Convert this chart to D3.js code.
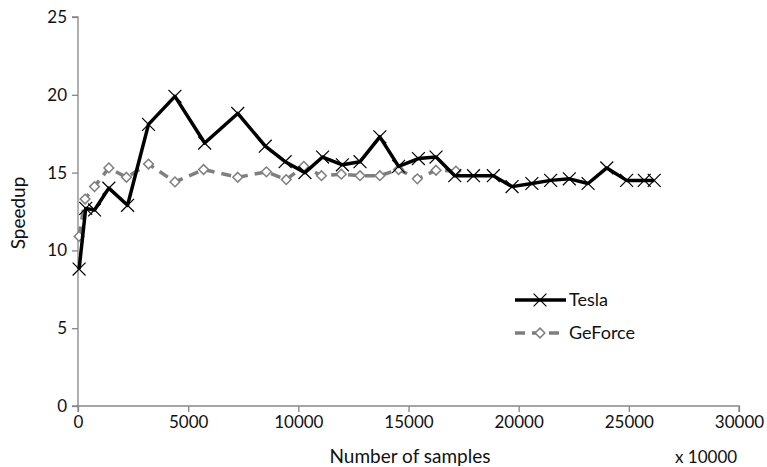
<!DOCTYPE html>
<html>
<head>
<meta charset="utf-8">
<script src="https://cdn.jsdelivr.net/npm/d3@7"></script>
<style>
  body { margin: 0; background: #fff; }
  text { font-family: Lato, "Open Sans", sans-serif; fill: #111; }
</style>
</head>
<body>
<svg id="chart" width="767" height="467"></svg>
<script>
// data
const teslaX = [50, 350, 750, 1400, 2250, 3200, 4400, 5750, 7250, 8500, 9400, 10300, 11100, 12000, 12800, 13700,
                14550, 15450, 16250, 17100, 17950, 18850, 19700, 20600, 21450, 22300, 23150, 24000, 24900, 25700, 26150];
const teslaY = [8.8, 12.7, 12.6, 14.0, 12.9, 18.1, 19.9, 16.9, 18.8, 16.7, 15.7, 15.0, 16.0, 15.5, 15.7, 17.3,
                15.4, 15.9, 16.0, 14.8, 14.8, 14.8, 14.1, 14.3, 14.5, 14.6, 14.3, 15.3, 14.5, 14.5, 14.5];
const geforceX = [50, 320, 750, 1400, 2200, 3200, 4400, 5700, 7250, 8550, 9450, 10250, 11050, 11950, 12800, 13700,
                  14550, 15400, 16250, 17150];
const geforceY = [10.9, 13.3, 14.1, 15.3, 14.7, 15.55, 14.4, 15.2, 14.7, 15.05, 14.55, 15.4, 14.8, 14.9, 14.8, 14.8,
                  15.2, 14.6, 15.15, 15.1];
const xTicks = [0, 5000, 10000, 15000, 20000, 25000, 30000];
const yTicks = [0, 5, 10, 15, 20, 25];

const svg = d3.select("svg#chart");
const margin = { left: 78, top: 17, right: 28, bottom: 61 };
const width = 767 - margin.left - margin.right;
const height = 467 - margin.top - margin.bottom;
const axisColor = "#868686";

const x = d3.scaleLinear().domain([0, 30000]).range([0, width]);
const y = d3.scaleLinear().domain([0, 25]).range([height, 0]);

const g = svg.append("g").attr("transform", `translate(${margin.left},${margin.top})`);

// axes
const xAxis = g.append("g")
    .attr("transform", `translate(0,${height})`)
    .call(d3.axisBottom(x).tickValues(xTicks).tickSize(6).tickPadding(4).tickFormat(d3.format("d")));
const yAxis = g.append("g")
    .call(d3.axisLeft(y).tickValues(yTicks).tickSize(6).tickPadding(5));
[xAxis, yAxis].forEach(a => {
    a.select(".domain").attr("stroke", axisColor).attr("stroke-width", 1.3);
    a.selectAll(".tick line").attr("stroke", axisColor).attr("stroke-width", 1.3);
    a.selectAll(".tick text").style("font-size", "17px").attr("fill", "#111")
        .style("font-family", "Lato, 'Open Sans', sans-serif");
});
xAxis.select(".domain").attr("d", `M0,6V0H${width}V6`);
yAxis.select(".domain").attr("d", `M-6,0H0V${height}H-6`);

// axis titles
svg.append("text").text("Speedup")
    .attr("transform", "translate(25,213) rotate(-90)")
    .attr("text-anchor", "middle")
    .style("font-size", "19px");
svg.append("text").text("Number of samples")
    .attr("x", 410).attr("y", 463)
    .attr("text-anchor", "middle")
    .style("font-size", "19px");
svg.append("text").text("x 10000")
    .attr("x", 675).attr("y", 463)
    .style("font-size", "17px");

const line = d3.line().x(d => x(d[0])).y(d => y(d[1]));
const tesla = teslaX.map((v, i) => [v, teslaY[i]]);
const geforce = geforceX.map((v, i) => [v, geforceY[i]]);

// GeForce series
g.append("path")
    .datum(geforce)
    .attr("d", line)
    .attr("fill", "none")
    .attr("stroke", "#7f7f7f")
    .attr("stroke-width", 3.5)
    .attr("stroke-dasharray", "10,7");
const diamond = d3.symbol().type(d3.symbolDiamond2).size(60);
g.selectAll("path.gf")
    .data(geforce)
    .join("path")
    .attr("class", "gf")
    .attr("d", diamond)
    .attr("transform", d => `translate(${x(d[0])},${y(d[1])})`)
    .attr("fill", "#fff")
    .attr("stroke", "#7f7f7f")
    .attr("stroke-width", 1.5);

// Tesla series
g.append("path")
    .datum(tesla)
    .attr("d", line)
    .attr("fill", "none")
    .attr("stroke", "#000")
    .attr("stroke-width", 3.5)
    .attr("stroke-linejoin", "round");
const cross = d3.symbol().type(d3.symbolX).size(110);
g.selectAll("path.ts")
    .data(tesla)
    .join("path")
    .attr("class", "ts")
    .attr("d", cross)
    .attr("transform", d => `translate(${x(d[0])},${y(d[1])})`)
    .attr("fill", "none")
    .attr("stroke", "#000")
    .attr("stroke-width", 1.2);

// legend
const legend = svg.append("g");
legend.append("line").attr("x1", 515).attr("x2", 566).attr("y1", 300).attr("y2", 300)
    .attr("stroke", "#000").attr("stroke-width", 3.5);
legend.append("path").attr("d", cross).attr("transform", "translate(540,300)")
    .attr("fill", "none").attr("stroke", "#000").attr("stroke-width", 1.2);
legend.append("text").text("Tesla").attr("x", 569).attr("y", 306).style("font-size", "18px");
legend.append("line").attr("x1", 515).attr("x2", 566).attr("y1", 333).attr("y2", 333)
    .attr("stroke", "#7f7f7f").attr("stroke-width", 3.5).attr("stroke-dasharray", "10,7");
legend.append("path").attr("d", diamond).attr("transform", "translate(540,333)")
    .attr("fill", "#fff").attr("stroke", "#7f7f7f").attr("stroke-width", 1.5);
legend.append("text").text("GeForce").attr("x", 569).attr("y", 339).style("font-size", "18px");
</script>
</body>
</html>
